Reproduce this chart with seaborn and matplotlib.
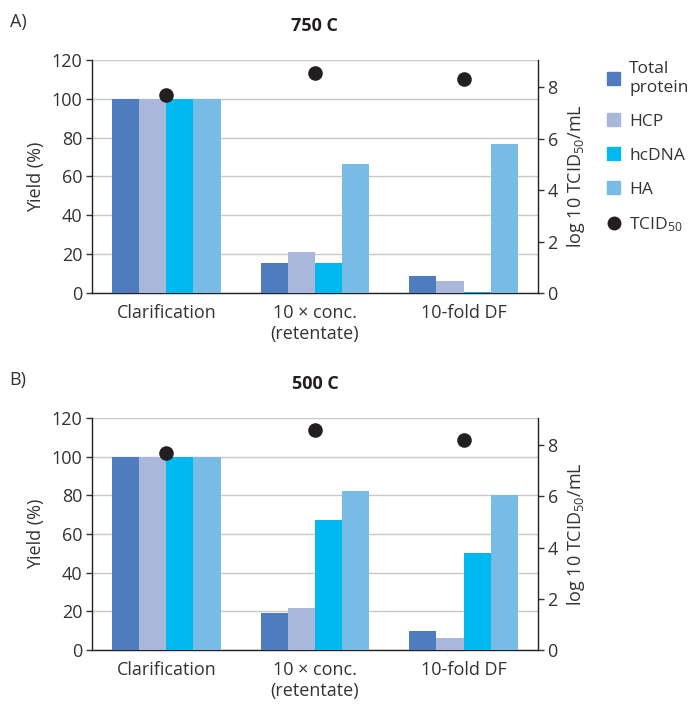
import numpy as np
import pandas as pd
import seaborn as sns
import matplotlib.pyplot as plt
from matplotlib.lines import Line2D

sns.set_style("white")
plt.rcParams['font.family'] = ['Open Sans', 'DejaVu Sans']
plt.rcParams['mathtext.default'] = 'regular'

steps = ['Clarification', '10 × conc.\n(retentate)', '10-fold DF']
series = ['Total\nprotein', 'HCP', 'hcDNA', 'HA']
colors = ['#4f7bbf', '#a9b7da', '#00b9f0', '#78bbe4']
dot_color = '#231f20'

# yield (%) per step, A) 750 C
tp_750 = [100, 15.2, 9.0]
hcp_750 = [100, 20.9, 6.0]
dna_750 = [100, 15.2, 0.4]
ha_750 = [100, 66.4, 76.7]
tcid_750 = [7.7, 8.56, 8.3]

# B) 500 C
tp_500 = [100, 19.3, 10.0]
hcp_500 = [100, 21.7, 6.0]
dna_500 = [100, 67.2, 50.3]
ha_500 = [100, 82.2, 80.2]
tcid_500 = [7.69, 8.58, 8.18]

panels = [
    ('A)', '750 C', [tp_750, hcp_750, dna_750, ha_750], tcid_750),
    ('B)', '500 C', [tp_500, hcp_500, dna_500, ha_500], tcid_500),
]

fs = 13
txt = '#333333'
fig = plt.figure(figsize=(6.94, 7.04), dpi=100)
rects = [[0.1326, 0.5838, 0.6424, 0.3310], [0.1326, 0.0767, 0.6424, 0.3293]]
letter_y = [0.969, 0.460]

for (letter, title, vals, tcid), rect, ly in zip(panels, rects, letter_y):
    ax = fig.add_axes(rect)
    rows = []
    for name, v in zip(series, vals):
        for s, y in zip(steps, v):
            rows.append({'step': s, 'series': name, 'yield': y})
    df = pd.DataFrame(rows)
    sns.barplot(data=df, x='step', y='yield', hue='series', palette=colors,
                width=0.73, gap=0, saturation=1, ax=ax, legend=False,
                edgecolor='none', linewidth=0, zorder=3)
    ax.set_ylim(0, 120)
    ax.set_yticks(np.arange(0, 121, 20))
    ax.set_xlim(-0.5, 2.5)
    ax.yaxis.grid(True, color='#c8c8c8', linewidth=1, zorder=0)
    ax.set_axisbelow(True)
    ax.set_xlabel('')
    ax.set_ylabel('Yield (%)', fontsize=fs, color=txt, labelpad=5)
    ax.tick_params(axis='x', length=0, labelsize=fs, colors=txt, pad=8)
    ax.tick_params(axis='y', length=4, width=1, labelsize=fs, colors=txt, direction='out', left=True, pad=3)
    for side in ['left', 'bottom']:
        ax.spines[side].set_color('#231f20')
        ax.spines[side].set_linewidth(1)
    ax.spines['top'].set_visible(False)
    ax.spines['right'].set_visible(False)
    ax.set_title(title, fontsize=fs, fontweight='bold', color='#231f20', pad=21)
    fig.text(0.014, ly, letter, fontsize=fs, color=txt, va='center')

    ax2 = ax.twinx()
    tdf = pd.DataFrame({'step': steps, 'tcid': tcid})
    sns.stripplot(data=tdf, x='step', y='tcid', jitter=False, color=dot_color,
                  size=10.5, ax=ax2, zorder=5, linewidth=0)
    ax2.set_ylim(0, 9.05)
    ax2.set_yticks([0, 2, 4, 6, 8])
    ax2.set_xlim(-0.5, 2.5)
    ax2.set_xlabel('')
    ax2.set_ylabel('log 10 TCID$_{50}$/mL', fontsize=fs, color=txt, labelpad=5)
    ax2.tick_params(axis='y', length=4, width=1, labelsize=fs, colors=txt, direction='out', right=True, pad=3)
    for side in ['left', 'top', 'bottom']:
        ax2.spines[side].set_visible(False)
    ax2.spines['right'].set_color('#231f20')
    ax2.spines['right'].set_linewidth(1)

handles = [plt.Rectangle((0, 0), 1, 1, color=c) for c in colors]
handles.append(Line2D([], [], marker='o', linestyle='none', color=dot_color, markersize=9))
fig.legend(handles, series + ['TCID$_{50}$'], loc='upper left', bbox_to_anchor=(0.874, 0.913),
           frameon=False, fontsize=12.5, handlelength=0.8, handleheight=0.8,
           handletextpad=0.5, labelspacing=1.0, labelcolor=txt, borderpad=0, borderaxespad=0)

fig.savefig('out.png', dpi=100)
